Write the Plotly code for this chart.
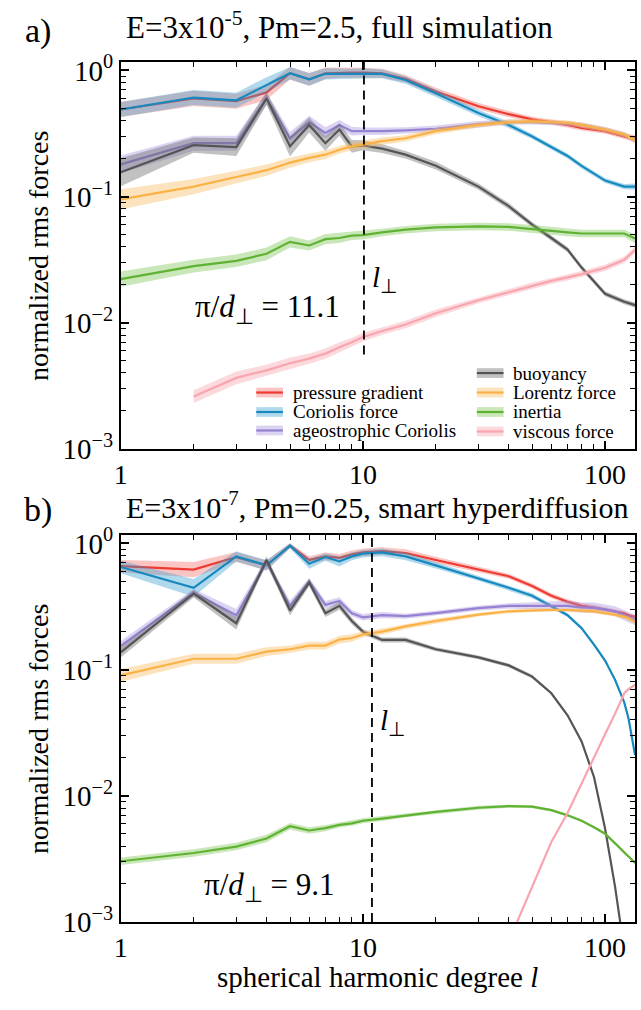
import plotly.graph_objects as go

W, H = 641, 1010
FONT = "Liberation Serif"

# ---------------- panel a: E=3e-5, Pm=2.5, full simulation ----------------
l_a = [1, 2, 3, 4, 5, 6, 7, 8, 9, 10, 12, 15, 20, 30, 40, 50, 60, 70, 80, 100, 120, 133]
pressure_a = [0.49, 0.60, 0.57, 0.67, 0.95, 0.85, 0.95, 0.96, 0.96, 0.96, 0.95, 0.86,
              0.68, 0.52, 0.45, 0.41, 0.39, 0.37, 0.35, 0.33, 0.30, 0.29]
coriolis_a = [0.49, 0.61, 0.58, 0.77, 0.95, 0.85, 0.94, 0.94, 0.94, 0.95, 0.94, 0.84,
              0.66, 0.46, 0.37, 0.30, 0.247, 0.21, 0.175, 0.134, 0.12, 0.12]
ageo_a = [0.18, 0.265, 0.265, 0.60, 0.29, 0.39, 0.32, 0.37, 0.33, 0.33, 0.33, 0.335,
          0.345, 0.375, 0.39, 0.39, 0.385, 0.38, 0.37, 0.34, 0.31, 0.28]
buoyancy_a = [0.156, 0.256, 0.247, 0.60, 0.25, 0.37, 0.265, 0.34, 0.25, 0.255, 0.24, 0.215,
              0.176, 0.12, 0.084, 0.06, 0.047, 0.038, 0.0274, 0.017, 0.0147, 0.0138]
lorentz_a = [0.095, 0.12, 0.143, 0.162, 0.186, 0.203, 0.215, 0.235, 0.25, 0.26, 0.275, 0.29,
             0.33, 0.37, 0.39, 0.395, 0.39, 0.385, 0.37, 0.34, 0.31, 0.28]
inertia_a = [0.0222, 0.0281, 0.031, 0.0352, 0.0438, 0.041, 0.046, 0.047, 0.049, 0.0495, 0.052,
             0.0547, 0.057, 0.058, 0.0575, 0.0556, 0.0535, 0.052, 0.051, 0.051, 0.051, 0.0465]
viscous_a = [None, 0.0026, 0.00366, 0.0042, 0.00478, 0.0052, 0.0057, 0.0064, 0.0070, 0.0077,
             0.0086, 0.0097, 0.0119, 0.0151, 0.0175, 0.0197, 0.0215, 0.0229, 0.0243, 0.0273,
             0.0316, 0.0378]

# half-width of the shaded spread, in decades
spread_pressure_a = [.06, .06, .06, .06, .05, .05, .045, .04, .04, .04, .035, .03,
                     .03, .025, .025, .02, .02, .02, .02, .02, .02, .025]
spread_coriolis_a = [.06, .06, .06, .06, .05, .05, .045, .04, .04, .04, .035, .03,
                     .03, .025, .025, .02, .02, .02, .02, .02, .02, .025]
spread_ageo_a = [.07, .06, .06, .05, .05, .05, .045, .04, .035, .03, .03, .025,
                 .025, .025, .02, .02, .02, .02, .02, .02, .02, .025]
spread_buoyancy_a = [.11, .06, .07, .05, .08, .06, .06, .05, .05, .04, .035, .03,
                     .03, .025, .025, .02, .02, .02, .02, .02, .02, .02]
spread_lorentz_a = [.08, .06, .05, .045, .04, .035, .035, .03, .03, .03, .03, .025,
                    .025, .02, .02, .02, .02, .02, .02, .02, .02, .025]
spread_inertia_a = [.06, .05, .05, .05, .045, .04, .04, .04, .035, .035, .03, .03,
                    .03, .03, .03, .03, .03, .03, .03, .03, .03, .035]
spread_viscous_a = [None, .05, .05, .045, .045, .04, .04, .04, .035, .035, .03, .03,
                    .03, .025, .025, .025, .025, .025, .025, .025, .025, .025]

# ---------------- panel b: E=3e-7, Pm=0.25, smart hyperdiffusion ----------------
l_b = [1, 2, 3, 4, 5, 6, 7, 8, 9, 10, 12, 15, 20, 30, 40, 50, 60, 70, 80, 90, 100,
       110, 120, 125, 133]
pressure_b = [0.66, 0.62, 0.78, 0.67, 0.96, 0.74, 0.79, 0.77, 0.82, 0.85, 0.87, 0.84, 0.74,
              0.62, 0.55, 0.46, 0.385, 0.345, 0.32, 0.31, 0.30, 0.29, 0.28, 0.27, 0.262]
coriolis_b = [0.65, 0.445, 0.79, 0.67, 0.96, 0.69, 0.78, 0.72, 0.79, 0.83, 0.85, 0.79, 0.67,
              0.53, 0.445, 0.385, 0.32, 0.27, 0.213, 0.158, 0.118, 0.083, 0.055, 0.041, 0.021]
ageo_b = [0.154, 0.407, 0.27, 0.71, 0.32, 0.50, 0.326, 0.35, 0.28, 0.26, 0.27, 0.265, 0.28,
          0.307, 0.32, 0.32, 0.32, 0.32, 0.31, 0.31, 0.30, 0.29, 0.27, 0.26, 0.247]
buoyancy_b = [0.137, 0.40, 0.233, 0.74, 0.294, 0.49, 0.28, 0.32, 0.243, 0.20, 0.172, 0.172,
              0.145, 0.125, 0.108, 0.088, 0.065, 0.0435, 0.027, 0.0141, 0.0055, 0.0019,
              0.0006, None, None]
lorentz_b = [0.09, 0.122, 0.122, 0.139, 0.145, 0.155, 0.155, 0.173, 0.178, 0.19, 0.20, 0.22,
             0.243, 0.273, 0.29, 0.296, 0.297, 0.297, 0.295, 0.29, 0.28, 0.273, 0.262,
             0.255, 0.239]
inertia_b = [0.00303, 0.00352, 0.00396, 0.00459, 0.00574, 0.00531, 0.00554, 0.00588, 0.00605,
             0.00634, 0.0066, 0.0070, 0.00745, 0.00804, 0.00828, 0.0082, 0.0077, 0.0070,
             0.00634, 0.00564, 0.00501, 0.0042, 0.00352, 0.0033, 0.00294]
viscous_b = [None, None, None, None, None, None, None, None, None, None, None, None, None,
             None, 0.0007, 0.0019, 0.0043, 0.0073, 0.0126, 0.020, 0.0307, 0.0448, 0.065,
             0.070, 0.0757]

spread_pressure_b = [.05, .06, .04, .04, .02, .03, .03, .03, .03, .03, .03, .03, .025,
                     .02, .02, .02, .02, .02, .02, .02, .015, .015, .015, .015, .015]
spread_coriolis_b = [.05, .07, .04, .04, .02, .04, .03, .04, .03, .03, .03, .03, .025,
                     .02, .02, .02, .015, .015, .015, .015, .015, .015, .015, .015, .015]
spread_ageo_b = [.04, .03, .05, .03, .04, .03, .03, .03, .025, .025, .025, .02, .02,
                 .02, .02, .03, .035, .04, .04, .04, .04, .04, .04, .04, .04]
spread_buoyancy_b = [.04, .03, .05, .03, .04, .03, .03, .03, .025, .02, .02, .02, .015,
                     .015, .015, .015, .01, .01, .01, .01, .01, .01, .01, None, None]
spread_lorentz_b = [.05, .04, .04, .035, .03, .03, .03, .03, .03, .025, .025, .02, .02,
                    .015, .015, .015, .015, .015, .015, .015, .015, .015, .015, .015, .015]
spread_inertia_b = [.03, .03, .03, .03, .025, .025, .025, .02, .02, .02, .02, .015, .015,
                    .015, .012, .012, .01, .01, .01, .01, .01, .01, .01, .01, .01]
spread_viscous_b = [None] * 14 + [.01] * 11

# line colour, band colour
STYLE = {
    "pressure gradient": ("rgb(238,58,50)", "rgba(240,90,80,0.35)"),
    "Coriolis force": ("rgb(22,138,190)", "rgba(60,160,210,0.40)"),
    "ageostrophic Coriolis": ("rgb(150,130,210)", "rgba(165,145,220,0.40)"),
    "buoyancy": ("rgb(85,85,85)", "rgba(100,100,100,0.40)"),
    "Lorentz force": ("rgb(250,178,70)", "rgba(250,185,90,0.40)"),
    "inertia": ("rgb(95,178,50)", "rgba(120,195,80,0.40)"),
    "viscous force": ("rgb(248,165,175)", "rgba(248,170,180,0.45)"),
}

panels = [
    (l_a, [("pressure gradient", pressure_a, spread_pressure_a),
           ("Coriolis force", coriolis_a, spread_coriolis_a),
           ("ageostrophic Coriolis", ageo_a, spread_ageo_a),
           ("buoyancy", buoyancy_a, spread_buoyancy_a),
           ("Lorentz force", lorentz_a, spread_lorentz_a),
           ("inertia", inertia_a, spread_inertia_a),
           ("viscous force", viscous_a, spread_viscous_a)]),
    (l_b, [("pressure gradient", pressure_b, spread_pressure_b),
           ("Coriolis force", coriolis_b, spread_coriolis_b),
           ("ageostrophic Coriolis", ageo_b, spread_ageo_b),
           ("buoyancy", buoyancy_b, spread_buoyancy_b),
           ("Lorentz force", lorentz_b, spread_lorentz_b),
           ("inertia", inertia_b, spread_inertia_b),
           ("viscous force", viscous_b, spread_viscous_b)]),
]

# wavenumber of the dashed marker, and its lower end, per panel
l_perp = [10.1, 10.9]
l_perp_bottom = [0.0056, 0.001]
Y_TOP = 10 ** 0.07

fig = go.Figure()

for i, (l, series) in enumerate(panels):
    xa = "x" if i == 0 else "x2"
    ya = "y" if i == 0 else "y2"
    for name, vals, spr in series:
        line_c, band_c = STYLE[name]
        pts = [(x, v, s) for x, v, s in zip(l, vals, spr) if v is not None]
        xs = [p[0] for p in pts]
        ys = [p[1] for p in pts]
        up = [p[1] * 10 ** p[2] for p in pts]
        lo = [p[1] / 10 ** p[2] for p in pts]
        fig.add_trace(go.Scatter(x=xs + xs[::-1], y=up + lo[::-1], fill="toself",
                                 fillcolor=band_c, line=dict(width=0), mode="lines",
                                 hoverinfo="skip", showlegend=False, xaxis=xa, yaxis=ya))
        fig.add_trace(go.Scatter(x=xs, y=ys, mode="lines", name=name,
                                 line=dict(color=line_c, width=2.2),
                                 showlegend=False, xaxis=xa, yaxis=ya))
    fig.add_trace(go.Scatter(x=[l_perp[i], l_perp[i]], y=[l_perp_bottom[i], Y_TOP],
                             mode="lines", line=dict(color="black", width=1.8, dash="9px,6px"),
                             showlegend=False, xaxis=xa, yaxis=ya))


def px(x, y):
    return x / W, 1 - y / H


x0, x1 = 115, 635
axis_common = dict(
    type="log", range=[0, 2.1239], showgrid=False, zeroline=False,
    showline=True, linecolor="black", linewidth=1.8, mirror="allticks",
    ticks="inside", ticklen=8, tickwidth=1.5, tickcolor="black",
    tickvals=[1, 10, 100], ticktext=["1", "10", "100"],
    tickfont=dict(family=FONT, size=28, color="black"),
    minor=dict(ticks="inside", ticklen=5, tickwidth=1.2, tickcolor="black", dtick="D1",
               showgrid=False),
)
yaxis_common = dict(
    type="log", range=[-3, 0.07], showgrid=False, zeroline=False,
    showline=True, linecolor="black", linewidth=1.8, mirror="allticks",
    ticks="inside", ticklen=8, tickwidth=1.5, tickcolor="black",
    tickvals=[1e-3, 1e-2, 1e-1, 1],
    ticktext=["10<sup>\u22123</sup>", "10<sup>\u22122</sup>", "10<sup>\u22121</sup>",
              "10<sup>0</sup>"],
    tickfont=dict(family=FONT, size=29, color="black"),
    minor=dict(ticks="inside", ticklen=5, tickwidth=1.2, tickcolor="black", dtick="D1",
               showgrid=False),
)

fig.update_layout(
    width=W, height=H, margin=dict(l=0, r=0, t=0, b=0),
    paper_bgcolor="white", plot_bgcolor="white", showlegend=False,
    font=dict(family=FONT, color="black"),
    xaxis=dict(axis_common, domain=[x0 / W, x1 / W], anchor="y"),
    yaxis=dict(yaxis_common, domain=[1 - 450 / H, 1 - 52 / H], anchor="x"),
    xaxis2=dict(axis_common, domain=[x0 / W, x1 / W], anchor="y2"),
    yaxis2=dict(yaxis_common, domain=[1 - 936 / H, 1 - 538 / H], anchor="x2"),
)

ann = []


def text(x, y, s, size, xanchor="center", angle=0):
    px_, py_ = px(x, y)
    ann.append(dict(x=px_, y=py_, xref="paper", yref="paper", text=s, showarrow=False,
                    xanchor=xanchor, yanchor="middle", textangle=angle,
                    font=dict(family=FONT, size=size, color="black")))


text(31, 21, "a)", 34)
text(118, 15, "E=3x10<sup>-5</sup>, Pm=2.5, full simulation", 31, xanchor="left")
text(31, 513, "b)", 34)
text(118, 508, "E=3x10<sup>-7</sup>, Pm=0.25, smart hyperdiffusion", 30, xanchor="left")
text(32, 252, "normalized rms forces", 28, angle=-90)
text(32, 738, "normalized rms forces", 28, angle=-90)
text(375, 993, "spherical harmonic degree <i>l</i>", 29)
text(188, 306, "\u03c0/<i>d</i><sub>\u22a5</sub> = 11.1", 31, xanchor="left")
text(197, 900, "\u03c0/<i>d</i><sub>\u22a5</sub> = 9.1", 31, xanchor="left")
text(382, 275, "<i>l</i><sub>\u22a5</sub>", 29)
text(390, 731, "<i>l</i><sub>\u22a5</sub>", 29)

# legend of panel a, drawn as band swatches with labels
legend_rows = [
    ("pressure gradient", 252, 392), ("Coriolis force", 252, 412),
    ("ageostrophic Coriolis", 252, 431),
    ("buoyancy", 475, 372), ("Lorentz force", 475, 392),
    ("inertia", 475, 412), ("viscous force", 475, 432),
]
shapes = []
for name, sx, sy in legend_rows:
    line_c, band_c = STYLE[name]
    ax0, ay0 = px(sx, sy - 5)
    ax1, ay1 = px(sx + 27, sy + 5)
    shapes.append(dict(type="rect", xref="paper", yref="paper", x0=ax0, x1=ax1,
                       y0=ay1, y1=ay0, fillcolor=band_c, line=dict(width=0)))
    lx0, ly = px(sx, sy)
    lx1, _ = px(sx + 27, sy)
    shapes.append(dict(type="line", xref="paper", yref="paper", x0=lx0, x1=lx1,
                       y0=ly, y1=ly, line=dict(color=line_c, width=2.2)))
    text(sx + 35, sy, name, 19, xanchor="left")

fig.update_layout(annotations=ann, shapes=shapes)
fig.write_html("out.html")
